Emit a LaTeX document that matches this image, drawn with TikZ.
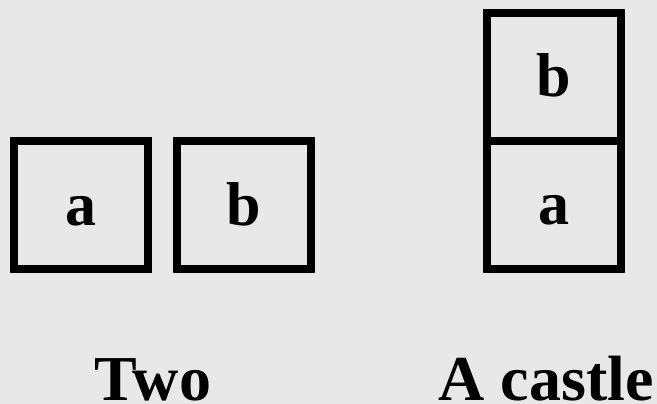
\documentclass[tikz,border=0pt]{standalone}
\usepackage{fontspec}
\setmainfont{Liberation Serif}
\definecolor{bg}{HTML}{E8E8E8}
\begin{document}
\begin{tikzpicture}[x=1pt,y=-1pt,
  box/.style={draw=black, line width=8pt, minimum width=134pt, minimum height=128pt, inner sep=0pt, outer sep=0pt},
  letter/.style={anchor=base, inner sep=0pt, font=\fontsize{62}{62}\selectfont\bfseries},
  caption/.style={anchor=base, inner sep=0pt, font=\fontsize{64}{64}\selectfont\bfseries}]
\fill[bg] (0,0) rectangle (657,404);
\useasboundingbox (0,0) rectangle (657,404);
% Two
\node[box] (ta) at (81,205) {};
\node[box] (tb) at (243.5,205) {};
\node[letter] (tal) at (81,225) {a};
\node[letter] (tbl) at (243.5,225) {b};
% castle
\node[box] (ca) at (554,205) {};
\node[box] (cb) at (554,77) {};
\node[letter] (cal) at (554,224) {a};
\node[letter] (cbl) at (554,97) {b};
% captions
\node[caption] (two) at (153,400) {Two};
\node[caption] (castle) at (546,400) {A castle};
\end{tikzpicture}
\end{document}
